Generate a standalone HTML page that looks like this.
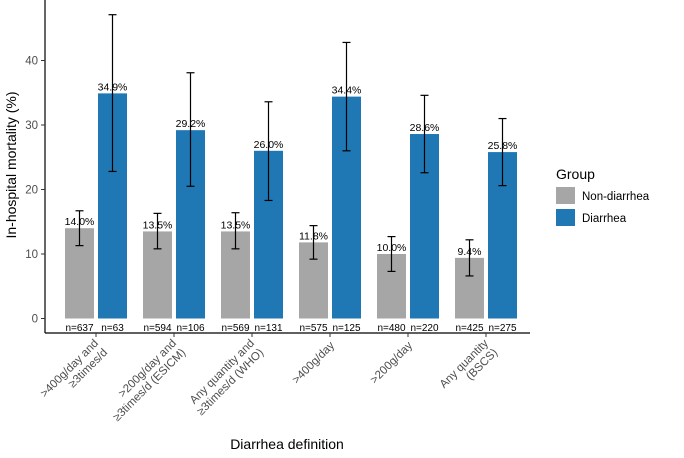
<!DOCTYPE html>
<html><head><meta charset="utf-8"><style>
body{margin:0;background:#fff;font-family:"Liberation Sans",Arial,sans-serif}
svg text{font-family:"Liberation Sans",Arial,sans-serif}
</style></head><body>
<svg id="c" width="684" height="453" xmlns="http://www.w3.org/2000/svg"></svg>
<script>
const categories=[">400g/day and|≥3times/d",">200g/day and|≥3times/d (ESICM)","Any quantity and|≥3times/d (WHO)",">400g/day",">200g/day","Any quantity|(BSCS)"];
const nonDiarrhea=[14.0,13.5,13.5,11.8,10.0,9.4];
const diarrhea=[34.9,29.2,26.0,34.4,28.6,25.8];
const nonLo=[11.3,10.8,10.8,9.2,7.3,6.6];
const nonHi=[16.7,16.3,16.4,14.4,12.7,12.2];
const diaLo=[22.8,20.5,18.3,26.0,22.6,20.6];
const diaHi=[47.1,38.1,33.6,42.8,34.6,31.0];
const nNon=[637,594,569,575,480,425];
const nDia=[63,106,131,125,220,275];
const yTicks=[0,10,20,30,40];
const svg=document.getElementById('c');
const NS='http://www.w3.org/2000/svg';
function el(t,a,p){const e=document.createElementNS(NS,t);for(const k in a)e.setAttribute(k,a[k]);(p||svg).appendChild(e);return e;}
const y=v=>318.5-v*6.45;
const xc=i=>96+i*78;
const bw=29,gap=2;
let e;
e=el('line',{x1:45,y1:0,x2:45,y2:333,stroke:'#000','stroke-width':1.2});


e=el('line',{x1:45,y1:333,x2:530,y2:333,stroke:'#000','stroke-width':1.2});


yTicks.forEach(t=>{
 el('line',{x1:41,x2:45,y1:y(t),y2:y(t),stroke:'#333'});
 e=el('text',{x:38,y:y(t)+4,'text-anchor':'end','font-size':11.5,fill:'#4d4d4d'});e.textContent=t;
 
 
});
e=el('text',{transform:'translate(16,165) rotate(-90)','text-anchor':'middle','font-size':14,fill:'#000'});e.textContent='In-hospital mortality (%)';


e=el('text',{x:287,y:449,'text-anchor':'middle','font-size':14,fill:'#000'});e.textContent='Diarrhea definition';


function errbar(x,lo,hi){
 const g=el('g',{stroke:'#000','stroke-width':1.2});
 el('line',{x1:x,x2:x,y1:y(lo),y2:y(hi)},g);
 el('line',{x1:x-4,x2:x+4,y1:y(lo),y2:y(lo)},g);
 el('line',{x1:x-4,x2:x+4,y1:y(hi),y2:y(hi)},g);
 return g;
}
categories.forEach((c,i)=>{
 const cx=xc(i);
 const gx=cx-gap-bw, bx=cx+gap;
 e=el('rect',{x:gx,y:y(nonDiarrhea[i]),width:bw,height:y(0)-y(nonDiarrhea[i]),fill:'#a6a6a6'});
 
 
 e=el('rect',{x:bx,y:y(diarrhea[i]),width:bw,height:y(0)-y(diarrhea[i]),fill:'#1f77b4'});
 
 
 e=errbar(gx+bw/2,nonLo[i],nonHi[i]);
 
 
 e=errbar(bx+bw/2,diaLo[i],diaHi[i]);
 
 
 e=el('text',{x:gx+bw/2,y:y(nonDiarrhea[i])-3,'text-anchor':'middle','font-size':10.5,fill:'#000'});e.textContent=nonDiarrhea[i].toFixed(1)+'%';
 
 
 e=el('text',{x:bx+bw/2,y:y(diarrhea[i])-3,'text-anchor':'middle','font-size':10.5,fill:'#000'});e.textContent=diarrhea[i].toFixed(1)+'%';
 
 
 e=el('text',{x:gx+bw/2,y:331,'text-anchor':'middle','font-size':10,fill:'#000'});e.textContent='n='+nNon[i];
 
 
 e=el('text',{x:bx+bw/2,y:331,'text-anchor':'middle','font-size':10,fill:'#000'});e.textContent='n='+nDia[i];
 
 
 el('line',{x1:cx,x2:cx,y1:333,y2:337,stroke:'#333'});
 const lines=c.split('|');
 const t=el('text',{transform:`translate(${cx+5},${346}) rotate(-45)`,'text-anchor':'end','font-size':11.5,fill:'#4d4d4d'});
 
 
 lines.forEach((l,j)=>{const ts=el('tspan',{x:0,dy:j===0?(lines.length>1?-3:0):13},t);ts.textContent=l;});
});
e=el('text',{x:556,y:179,'font-size':14,fill:'#000'});e.textContent='Group';


e=el('rect',{x:556,y:187,width:19,height:17,fill:'#a6a6a6'});


e=el('text',{x:582,y:200,'font-size':11.5,fill:'#000'});e.textContent='Non-diarrhea';


e=el('rect',{x:556,y:209,width:19,height:17,fill:'#1f77b4'});


e=el('text',{x:582,y:222,'font-size':11.5,fill:'#000'});e.textContent='Diarrhea';


</script>
</body></html>
